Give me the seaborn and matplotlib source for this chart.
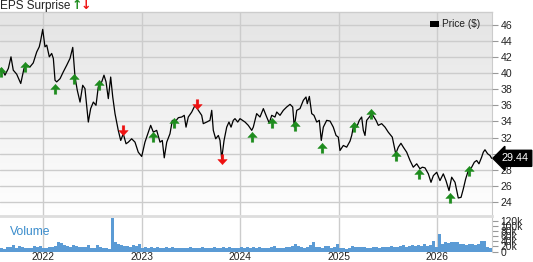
import numpy as np
import pandas as pd
import matplotlib
matplotlib.use("Agg")
import matplotlib.pyplot as plt
from matplotlib.path import Path
from matplotlib.patches import Rectangle
from matplotlib.colors import LinearSegmentedColormap
import matplotlib.transforms as mtrans
import seaborn as sns

# ---------------- data ----------------
price_t = [2021.560, 2021.578, 2021.611, 2021.645, 2021.672, 2021.695, 2021.730, 2021.771, 2021.804, 2021.832,
           2021.865, 2021.898, 2021.933, 2021.959, 2021.974, 2021.994, 2022.017, 2022.035, 2022.061, 2022.085,
           2022.102, 2022.119, 2022.136, 2022.170, 2022.203, 2022.238, 2022.271, 2022.299, 2022.322, 2022.345,
           2022.373, 2022.400, 2022.423, 2022.457, 2022.481, 2022.508, 2022.535, 2022.558, 2022.593, 2022.616,
           2022.637, 2022.660, 2022.684, 2022.705, 2022.728, 2022.761, 2022.786, 2022.812, 2022.840, 2022.863,
           2022.897, 2022.931, 2022.964, 2022.999, 2023.032, 2023.066, 2023.090, 2023.117, 2023.151, 2023.185,
           2023.208, 2023.228, 2023.253, 2023.286, 2023.310, 2023.337, 2023.371, 2023.405, 2023.431, 2023.449,
           2023.472, 2023.507, 2023.540, 2023.574, 2023.608, 2023.624, 2023.659, 2023.692, 2023.710, 2023.726,
           2023.750, 2023.777, 2023.794, 2023.811, 2023.835, 2023.862, 2023.885, 2023.906, 2023.929, 2023.946,
           2023.974, 2023.997, 2024.048, 2024.081, 2024.116, 2024.132, 2024.166, 2024.200, 2024.234, 2024.268,
           2024.294, 2024.319, 2024.352, 2024.370, 2024.403, 2024.437, 2024.471, 2024.505, 2024.532, 2024.548,
           2024.573, 2024.606, 2024.640, 2024.667, 2024.680, 2024.701, 2024.725, 2024.748, 2024.776, 2024.802,
           2024.822, 2024.843, 2024.877, 2024.911, 2024.944, 2024.972, 2024.995, 2025.012, 2025.046, 2025.080,
           2025.114, 2025.131, 2025.154, 2025.182, 2025.208, 2025.232, 2025.249, 2025.266, 2025.283, 2025.310,
           2025.334, 2025.357, 2025.378, 2025.401, 2025.435, 2025.469, 2025.502, 2025.543, 2025.578, 2025.604,
           2025.631, 2025.655, 2025.689, 2025.723, 2025.756, 2025.791, 2025.824, 2025.848, 2025.875, 2025.909,
           2025.936, 2025.960, 2025.994, 2026.027, 2026.061, 2026.088, 2026.119, 2026.146, 2026.180, 2026.213,
           2026.241, 2026.264, 2026.288, 2026.315, 2026.349, 2026.376, 2026.400, 2026.423, 2026.450, 2026.467,
           2026.484, 2026.511, 2026.535, 2026.552]
price_v = [40.35, 40.56, 39.73, 40.56, 42.0, 40.35, 39.85, 38.7, 40.56, 40.97,
           40.76, 41.25, 42.6, 43.24, 44.07, 45.4, 43.24, 43.45, 42.0, 42.42,
           41.8, 39.1, 38.9, 39.3, 40.14, 40.97, 41.8, 43.17, 39.5, 37.86,
           36.4, 38.48, 38.07, 33.93, 35.6, 36.4, 36.0, 38.27, 38.9, 39.73,
           38.9, 36.83, 39.5, 37.03, 34.97, 32.9, 31.65, 32.48, 31.24, 31.44,
           31.86, 31.44, 30.2, 29.67, 31.44, 32.68, 33.52, 32.68, 32.9, 31.44,
           31.65, 29.5, 31.44, 32.48, 34.14, 33.93, 34.47, 34.55, 34.76, 33.3,
           34.55, 35.17, 36.0, 35.38, 34.76, 33.73, 33.93, 34.14, 35.38, 32.9,
           31.86, 32.27, 31.65, 29.38, 31.65, 33.3, 33.93, 33.3, 34.14, 34.35,
           33.93, 34.35, 33.93, 33.52, 32.9, 33.3, 34.97, 34.55, 35.59, 34.55,
           33.8, 34.76, 34.55, 35.17, 34.76, 35.38, 35.79, 36.12, 35.79, 33.3,
           35.38, 35.59, 36.62, 37.03, 36.2, 37.1, 34.97, 34.76, 33.93, 34.14,
           31.65, 33.3, 34.14, 34.05, 33.3, 32.27, 32.06, 30.41, 31.03, 30.82,
           31.57, 32.27, 33.73, 33.3, 34.14, 34.55, 32.9, 32.27, 34.14, 34.55,
           34.97, 34.55, 34.14, 33.52, 33.73, 33.3, 32.68, 32.06, 30.0, 30.82,
           31.3, 30.82, 30.2, 29.17, 28.34, 28.76, 28.14, 28.34, 28.26, 27.52,
           26.47, 27.3, 27.71, 26.68, 27.52, 26.68, 25.44, 27.1, 26.47, 24.53,
           24.61, 25.65, 26.89, 27.93, 28.34, 28.96, 29.17, 28.76, 29.58, 30.2,
           30.5, 30.0, 29.79, 29.44]

beat_t = [2021.575, 2021.814, 2022.122, 2022.315, 2022.562, 2023.117, 2023.322, 2024.116, 2024.325,
          2024.555, 2024.826, 2025.154, 2025.324, 2025.578, 2025.817, 2026.129, 2026.325]
beat_v = [40.14, 40.76, 38.07, 39.23, 38.48, 32.06, 33.8, 32.06, 33.8,
          33.43, 30.7, 33.3, 34.97, 29.67, 27.52, 24.53, 27.93]
miss_t = [2022.812, 2023.557, 2023.811]
miss_v = [32.9, 36.12, 29.3]

# volume in thousands, evenly spaced bars from left to right edge
volume_k = [13, 11, 18, 16, 26, 15, 22, 17, 14, 13, 12, 21, 19, 23, 12,
            15, 17, 18, 22, 38, 34,
            26, 22, 18, 24, 20, 19, 17, 16,
            24, 15, 14, 27, 16, 13, 12, 11, 132,
            36, 30, 25, 22, 20, 18, 24, 21, 28,
            13, 16, 12, 17, 14, 19, 15, 13, 16, 12, 18, 14, 13, 15, 12, 14, 17, 13,
            12, 14, 16, 12, 13, 15, 18, 14, 12, 16, 13, 19, 14, 12, 15, 17, 13, 16,
            14, 17, 13, 19, 15, 14, 13, 16, 22, 14, 12, 15, 17, 16, 21, 30,
            22, 17, 13, 16, 25, 38,
            18, 17, 14, 22, 21, 15, 16, 28, 12, 13, 11,
            12, 20, 18, 17, 16, 19, 14, 15, 18, 16, 15, 19, 17, 16, 22, 18, 17,
            20, 24, 19, 22, 26, 20, 25, 23, 28, 22, 26, 42,
            18, 68,
            30, 36, 33, 38, 37, 38,
            28, 30, 27, 31, 29, 27, 30, 40,
            40, 18, 15]

year_ticks = [2022, 2023, 2024, 2025, 2026]
price_ticks = [24, 26, 28, 30, 32, 34, 36, 38, 40, 42, 44, 46]
vol_ticks = [0, 20, 40, 60, 80, 100, 120]
vol_labels = ["0", "20k", "40k", "60k", "80k", "100k", "120k"]
last_price = 29.44

# ---------------- style ----------------
sns.set_theme(style="white")
plt.rcParams['font.family'] = ['Liberation Sans', 'DejaVu Sans']

W, H = 533, 262
fig = plt.figure(figsize=(W / 100, H / 100), dpi=100)

x0, x1 = 2021.5604, 2021.5604 + 492 / 98.5
ax_r = 492 / W
ax = fig.add_axes([0, 1 - 216 / H, ax_r, (216 - 12) / H])
axv = fig.add_axes([0, 1 - 251.5 / H, ax_r, (251.5 - 216) / H])

grid_c = "#cccccc"

# gradient background
grad = np.linspace(0, 1, 256).reshape(-1, 1)
cmap = LinearSegmentedColormap.from_list("bg", ["#e4e4e4", "#ffffff"])
ax.imshow(grad, extent=[0, 1, 0, 1], transform=ax.transAxes, cmap=cmap, aspect="auto", zorder=0)

df = pd.DataFrame({"t": price_t, "p": price_v})
sns.lineplot(data=df, x="t", y="p", ax=ax, color="black", lw=0.9, zorder=3)

# arrows
up = Path([(-0.5, 0.0), (0.0, 0.55), (0.5, 0.0), (0.14, 0.0), (0.14, -0.5), (-0.14, -0.5), (-0.14, 0.0), (-0.5, 0.0)],
          [Path.MOVETO] + [Path.LINETO] * 6 + [Path.CLOSEPOLY])
down = Path([(x, -y) for x, y in up.vertices], up.codes)
ax.plot(beat_t, beat_v, ls="none", marker=up, ms=7.5, color="#1e8c1e", mec="#1e8c1e", mew=0.3, zorder=4)
ax.plot(miss_t, miss_v, ls="none", marker=down, ms=7.5, color="#ee1111", mec="#ee1111", mew=0.3, zorder=4)

ax.set_xlim(x0, x1)
ax.set_ylim(22.3, 47.55)
ax.set_xticks(year_ticks)
ax.set_yticks(price_ticks)
ax.grid(True, color=grid_c, lw=1.0)
ax.set_axisbelow(False)
for l in ax.get_xgridlines() + ax.get_ygridlines():
    l.set_zorder(1)
ax.tick_params(axis="x", bottom=False, labelbottom=False)
ax.yaxis.tick_right()
ax.tick_params(axis="y", right=True, length=4, width=0.8, color="#999999", labelsize=7.6,
               labelcolor="#222222", pad=2)
ax.set_xlabel("")
ax.set_ylabel("")
for s in ["left", "bottom"]:
    ax.spines[s].set_visible(False)
ax.spines["top"].set_color(grid_c)
ax.spines["right"].set_color(grid_c)
ax.spines["top"].set_linewidth(1.0)
ax.spines["right"].set_linewidth(0.8)

# legend
ax.add_patch(Rectangle((430 / 492, 1 - (24 - 12 + 2.5) / 204), 9 / 492, 5 / 204, transform=ax.transAxes,
                       facecolor="black", edgecolor="none", zorder=5))
ax.text(442 / 492, 1 - (24 - 12) / 204, "Price ($)", transform=ax.transAxes, fontsize=7.3, color="#222222",
        va="center", ha="left", zorder=5)

# last price label
ax.annotate(f"{last_price:.2f}", xy=(1, last_price), xycoords=("axes fraction", "data"),
            xytext=(7, 0), textcoords="offset points", ha="left", va="center", fontsize=7.8,
            color="white", bbox=dict(boxstyle="larrow,pad=0.28", fc="black", ec="black"),
            annotation_clip=False, zorder=10)

# volume
n = len(volume_k)
step = (x1 - x0) / n
vt = x0 + (np.arange(n) + 0.5) * step
axv.bar(vt, volume_k, width=step * 0.72, color="#5b9bd5", edgecolor="none", zorder=3)
axv.set_xlim(x0, x1)
axv.set_ylim(0, 138)
axv.set_xticks(year_ticks)
axv.set_xticklabels([])
axv.set_yticks(vol_ticks)
axv.set_yticklabels(vol_labels)
axv.grid(True, axis="x", color=grid_c, lw=1.0, zorder=1)
axv.grid(False, axis="y")
axv.yaxis.tick_right()
axv.tick_params(axis="y", right=True, length=4, width=0.8, color="#999999", labelsize=7.4,
                labelcolor="#222222", pad=2)
axv.tick_params(axis="x", bottom=False, length=0, labelbottom=False)
for s in ["left", "bottom"]:
    axv.spines[s].set_visible(False)
axv.spines["top"].set_color("#dddddd")
axv.spines["top"].set_linewidth(2.0)
axv.spines["right"].set_color(grid_c)
axv.spines["right"].set_linewidth(0.8)
axv.set_facecolor("white")
axv.text(0.02, 0.55, "Volume", transform=axv.transAxes, fontsize=8.7, color="#3a8ccc", va="center", ha="left")

# year labels below the volume panel
trans = mtrans.blended_transform_factory(axv.transData, fig.transFigure)
for yr in year_ticks:
    axv.text(yr, 1 - 257.5 / H, str(yr), transform=trans, ha="center", va="center", fontsize=7.4,
             color="#222222", clip_on=False)

# title
fig.text(0.0, 1 - 5.5 / H, "EPS Surprise", fontsize=8.5, color="#222222", va="center", ha="left")
fig.text(71.5 / W, 1 - 5.5 / H, "\u2191", fontsize=9, color="#1e8c1e", va="center", ha="left",
         family="DejaVu Sans", fontweight="bold")
fig.text(81 / W, 1 - 5.5 / H, "\u2193", fontsize=9, color="#ee1111", va="center", ha="left",
         family="DejaVu Sans", fontweight="bold")

fig.savefig("out.png", dpi=100)
